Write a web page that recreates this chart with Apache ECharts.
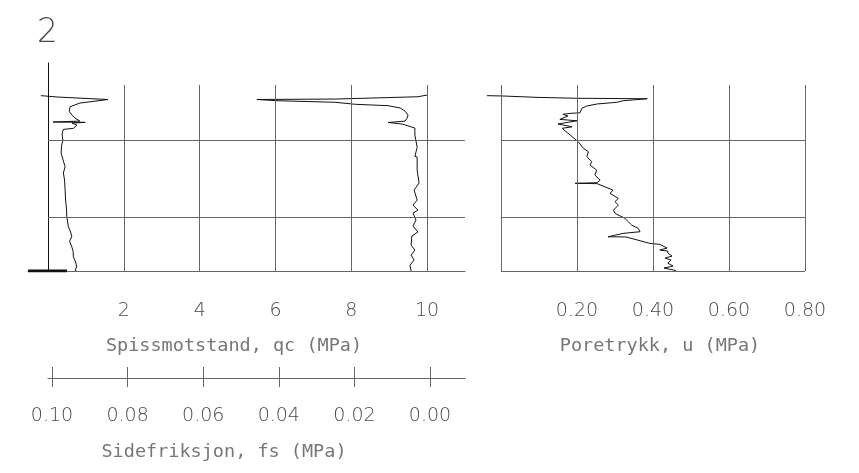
<!DOCTYPE html>
<html>
<head>
<meta charset="utf-8">
<script src="https://cdn.jsdelivr.net/npm/echarts@6/dist/echarts.min.js"></script>
<style>
  html, body { margin: 0; padding: 0; background: #fff; }
  #chart { width: 859px; height: 473px; }
</style>
</head>
<body>
<div id="chart"></div>
<script>
// depth (m) down the sounding
const qcDepth = [2.12, 2.21, 2.37, 2.60, 2.84, 3.16, 3.38, 3.57, 3.77, 3.83, 3.85, 3.90, 4.03, 4.24, 4.31, 4.61, 5.0, 5.39, 5.84, 6.30, 6.73, 7.14, 7.60, 8.25, 8.90, 9.55, 9.98, 10.63, 10.97, 11.28, 11.56, 11.93, 12.21, 12.58, 12.92, 13.23, 13.44, 13.5];
const qcValues = [-0.19, 0.26, 1.58, 0.84, 0.58, 0.56, 0.63, 0.71, 0.84, 0.13, 0.98, 0.63, 0.76, 0.67, 0.40, 0.37, 0.39, 0.356, 0.343, 0.396, 0.449, 0.404, 0.435, 0.449, 0.462, 0.488, 0.493, 0.536, 0.594, 0.625, 0.567, 0.625, 0.66, 0.668, 0.726, 0.757, 0.712, 0.75];

const fsDepth = [2.08, 2.19, 2.34, 2.37, 2.45, 2.55, 2.68, 2.77, 2.92, 3.12, 3.38, 3.59, 3.77, 3.86, 3.96, 4.22, 4.68, 5.06, 5.48, 5.52, 6.06, 6.10, 6.95, 7.79, 8.25, 8.90, 9.22, 9.55, 9.74, 10.19, 10.58, 10.97, 11.23, 11.82, 12.14, 12.47, 12.79, 13.12, 13.5];
const fsValues = [0.0008, 0.0032, 0.0251, 0.0458, 0.0402, 0.0251, 0.0198, 0.0111, 0.0079, 0.0066, 0.0058, 0.0061, 0.0066, 0.0111, 0.0074, 0.0040, 0.0040, 0.0037, 0.0034, 0.0029, 0.0040, 0.0034, 0.0034, 0.0029, 0.0042, 0.0034, 0.0045, 0.0032, 0.0045, 0.0037, 0.0045, 0.0032, 0.0048, 0.0050, 0.0040, 0.0050, 0.0042, 0.0053, 0.0050];

const uDepth = [2.12, 2.14, 2.23, 2.29, 2.32, 2.45, 2.55, 2.66, 2.79, 2.94, 3.23, 3.27, 3.33, 3.44, 3.66, 3.75, 3.96, 4.14, 4.24, 5.11, 5.21, 5.54, 5.76, 6.08, 6.41, 6.62, 6.95, 7.27, 7.60, 7.77, 7.81, 7.83, 8.25, 8.46, 8.79, 9.00, 9.22, 9.55, 9.76, 10.08, 10.30, 10.52, 10.73, 10.95, 11.06, 11.17, 11.28, 11.29, 11.71, 11.77, 12.01, 12.14, 12.21, 12.34, 12.53, 12.66, 12.79, 12.99, 13.18, 13.31, 13.44, 13.5];
const uValues = [-0.037, 0.003, 0.095, 0.200, 0.385, 0.321, 0.305, 0.253, 0.226, 0.213, 0.208, 0.182, 0.163, 0.176, 0.155, 0.200, 0.150, 0.187, 0.161, 0.203, 0.208, 0.217, 0.230, 0.226, 0.239, 0.234, 0.252, 0.247, 0.261, 0.253, 0.195, 0.253, 0.295, 0.287, 0.309, 0.300, 0.309, 0.296, 0.300, 0.326, 0.335, 0.344, 0.361, 0.366, 0.321, 0.318, 0.282, 0.329, 0.392, 0.418, 0.437, 0.418, 0.439, 0.439, 0.450, 0.432, 0.447, 0.439, 0.453, 0.429, 0.455, 0.461];

const qcTicks = [2, 4, 6, 8, 10];
const qcLines = [2, 4, 6, 8, 10];
const fsTicks = [0.10, 0.08, 0.06, 0.04, 0.02, 0.00];
const uTicks = [0.2, 0.4, 0.6, 0.8];
const uLines = [0, 0.2, 0.4, 0.6, 0.8];
const depthLines = [5, 10];
const gridTopDepth = 1.43;
const endDepth = 13.5;
const stopMark = [-0.53, 0.5];

const FONT = "DejaVu Sans";
const MONO = "DejaVu Sans Mono";
const TXT = "#4a4a4a";
const GRID = "#666";

function zip(xs, ys) {
  return xs.map((x, i) => [x, ys[i]]);
}

function vLines(vals) {
  return vals.map((v) => [{ coord: [v, gridTopDepth] }, { coord: [v, endDepth] }]);
}

function hLines(vals, x0, x1) {
  return vals.map((d) => [{ coord: [x0, d] }, { coord: [x1, d] }]);
}

const labelStyle = { color: TXT, fontFamily: FONT, fontWeight: 200, fontSize: 19 };
const nameStyle = { color: "#767676", fontFamily: MONO, fontWeight: "normal", fontSize: 18.5 };

const hiddenDepthAxis = (gridIndex) => ({
  gridIndex,
  type: "value",
  min: 0,
  max: endDepth,
  inverse: true,
  axisLine: { show: false },
  axisTick: { show: false },
  axisLabel: { show: false },
  splitLine: { show: false },
});

const chart = echarts.init(document.getElementById("chart"));

const option = {
  animation: false,
  backgroundColor: "#fff",
  title: {
    text: "2",
    left: 32,
    top: 12,
    textStyle: { color: TXT, fontFamily: FONT, fontWeight: 200, fontSize: 33 },
  },
  grid: [
    { left: 28, top: 63, width: 437, height: 208 },
    { left: 485, top: 63, width: 320, height: 208 },
    { left: 48, top: 63, width: 417, height: 208 },
  ],
  xAxis: [
    {
      gridIndex: 0,
      type: "value",
      min: -0.53,
      max: 11,
      position: "bottom",
      axisLine: { show: true, onZero: false, lineStyle: { color: GRID, width: 1 } },
      axisTick: { show: false },
      splitLine: { show: false },
      axisLabel: { customValues: qcTicks, margin: 31, ...labelStyle },
      name: "Spissmotstand, qc (MPa)",
      nameLocation: "middle",
      nameGap: 66,
      nameTextStyle: { ...nameStyle, padding: [0, 25, 0, 0] },
    },
    {
      gridIndex: 2,
      type: "value",
      min: -0.00926,
      max: 0.10106,
      inverse: true,
      position: "bottom",
      offset: 107,
      axisLine: { show: true, onZero: false, lineStyle: { color: GRID, width: 1 } },
      axisTick: { show: true, customValues: fsTicks, length: 9, lineStyle: { color: GRID } },
      splitLine: { show: false },
      axisLabel: { customValues: fsTicks, margin: 29, formatter: (v) => v.toFixed(2), ...labelStyle },
      name: "Sidefriksjon, fs (MPa)",
      nameLocation: "middle",
      nameGap: 65,
      nameTextStyle: { ...nameStyle, padding: [0, 65, 0, 0] },
    },
    {
      gridIndex: 2,
      type: "value",
      min: -0.00926,
      max: 0.10106,
      inverse: true,
      position: "bottom",
      offset: 107,
      axisLine: { show: false, onZero: false },
      axisTick: { show: true, inside: true, customValues: fsTicks, length: 11, lineStyle: { color: GRID } },
      splitLine: { show: false },
      axisLabel: { show: false },
    },
    {
      gridIndex: 1,
      type: "value",
      min: -0.042,
      max: 0.8,
      position: "bottom",
      axisLine: { show: false, onZero: false },
      axisTick: { show: false },
      splitLine: { show: false },
      axisLabel: { customValues: uTicks, margin: 31, formatter: (v) => v.toFixed(2), ...labelStyle },
      name: "Poretrykk, u (MPa)",
      nameLocation: "middle",
      nameGap: 66,
      nameTextStyle: { ...nameStyle, padding: [0, 0, 0, 30] },
    },
  ],
  yAxis: [
    {
      gridIndex: 0,
      type: "value",
      min: 0,
      max: endDepth,
      inverse: true,
      axisLine: { show: true, onZero: true, lineStyle: { color: "#111", width: 1 } },
      axisTick: { show: false },
      axisLabel: { show: false },
      splitLine: { show: false },
    },
    hiddenDepthAxis(1),
    hiddenDepthAxis(2),
  ],
  series: [
    {
      name: "qc",
      type: "line",
      xAxisIndex: 0,
      yAxisIndex: 0,
      data: zip(qcValues, qcDepth),
      symbol: "none",
      clip: false,
      lineStyle: { color: "#111", width: 1 },
      markLine: {
        silent: true,
        symbol: ["none", "none"],
        label: { show: false },
        lineStyle: { color: GRID, width: 1, type: "solid" },
        data: vLines(qcLines).concat(hLines(depthLines, 0, 11)),
      },
    },
    {
      // stop marker at the end depth
      name: "stop",
      type: "line",
      xAxisIndex: 0,
      yAxisIndex: 0,
      data: zip(stopMark, [endDepth, endDepth]),
      symbol: "none",
      lineStyle: { color: "#111", width: 3 },
    },
    {
      name: "fs",
      type: "line",
      xAxisIndex: 1,
      yAxisIndex: 2,
      data: zip(fsValues, fsDepth),
      symbol: "none",
      clip: false,
      lineStyle: { color: "#111", width: 1 },
    },
    {
      name: "u",
      type: "line",
      xAxisIndex: 3,
      yAxisIndex: 1,
      data: zip(uValues, uDepth),
      symbol: "none",
      clip: false,
      lineStyle: { color: "#111", width: 1 },
      markLine: {
        silent: true,
        symbol: ["none", "none"],
        label: { show: false },
        lineStyle: { color: GRID, width: 1, type: "solid" },
        data: vLines(uLines).concat(hLines(depthLines.concat([endDepth]), 0, 0.8)),
      },
    },
  ],
};

chart.setOption(option);
</script>
</body>
</html>
